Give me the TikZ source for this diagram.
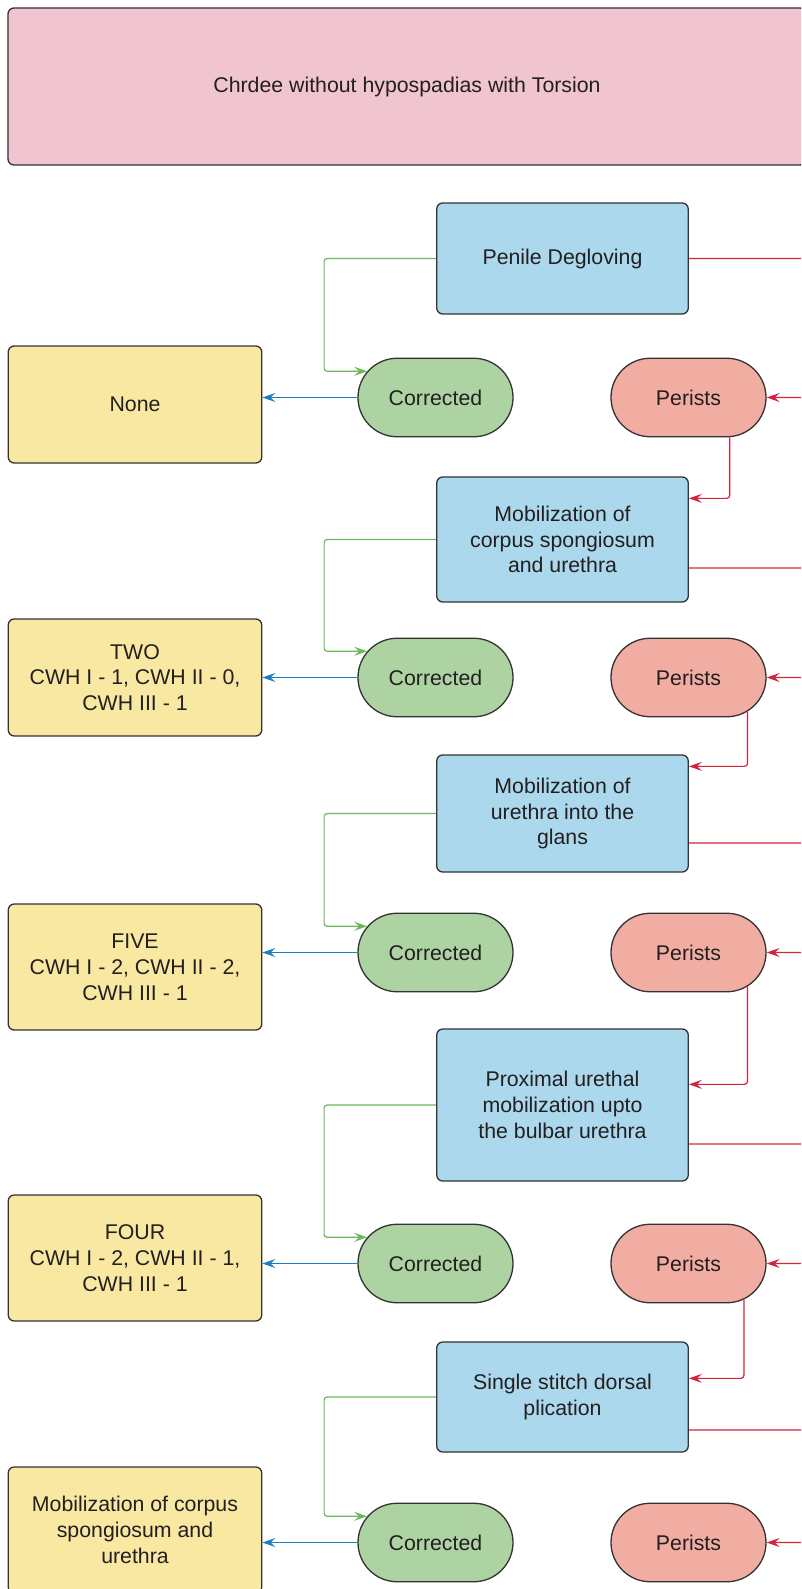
\documentclass[tikz,border=0pt]{standalone}
\usepackage{fontspec}
\setmainfont{Liberation Sans}
\usetikzlibrary{arrows.meta,shapes.misc,calc}

\definecolor{titlepink}{HTML}{F0C5CF}
\definecolor{stepblue}{HTML}{ABD8EC}
\definecolor{okgreen}{HTML}{ADD3A3}
\definecolor{badred}{HTML}{F1ADA2}
\definecolor{resultyellow}{HTML}{F9E8A1}
\definecolor{linegreen}{HTML}{6CB85B}
\definecolor{lineblue}{HTML}{1B7DC1}
\definecolor{linered}{HTML}{D2233F}
\definecolor{edge}{HTML}{333333}
\definecolor{ink}{HTML}{231F20}

\begin{document}
\begin{tikzpicture}[x=1bp, y=-1bp,
every node/.style={font=\fontsize{21.3bp}{25.8bp}\selectfont, text=ink, align=center,
  inner sep=0pt, draw=edge, line width=1.3bp},
titlebox/.style={fill=titlepink, rounded corners=6bp, minimum width=798bp, minimum height=157bp},
stepbox/.style={fill=stepblue, rounded corners=6bp, minimum width=251.5bp},
resultbox/.style={fill=resultyellow, rounded corners=6bp, minimum width=253.5bp},
pill/.style={rounded rectangle, minimum width=155bp, minimum height=78.5bp},
okpill/.style={pill, fill=okgreen},
badpill/.style={pill, fill=badred},
conn/.style={line width=1.2bp, rounded corners=3bp, -{Stealth[length=13bp,width=9bp,inset=5bp]}}]

\def\stepx{562.5}
\def\resx{135}
\def\railx{64}	% how far the red lines run out to the right

\useasboundingbox (0,0) rectangle (801,1589);
\clip (0,0) rectangle (801,1589);

\node[titlebox] (top) at (407,86.5) {Chrdee without hypospadias with Torsion};

% steps
\node[stepbox, minimum height=111bp] (s1) at (\stepx,258.5) {Penile Degloving};
\node[stepbox, minimum height=125bp] (s2) at (\stepx,539.5) {Mobilization of\\corpus spongiosum\\and urethra};
\node[stepbox, minimum height=117bp] (s3) at (\stepx,813.5) {Mobilization of\\urethra into the\\glans};
\node[stepbox, minimum height=152bp] (s4) at (\stepx,1105) {Proximal urethal\\mobilization upto\\the bulbar urethra};
\node[stepbox, minimum height=110bp] (s5) at (\stepx,1397) {Single stitch dorsal\\plication};

% results
\node[resultbox, minimum height=117bp] (r1) at (\resx,404.5) {None};
\node[resultbox, minimum height=117bp] (r2) at (\resx,677.5) {TWO\\CWH I - 1, CWH II - 0,\\CWH III - 1};
\node[resultbox, minimum height=126bp] (r3) at (\resx,967) {FIVE\\CWH I - 2, CWH II - 2,\\CWH III - 1};
\node[resultbox, minimum height=126bp] (r4) at (\resx,1258) {FOUR\\CWH I - 2, CWH II - 1,\\CWH III - 1};
\node[resultbox, minimum height=126bp] (r5) at (\resx,1530) {Mobilization of corpus\\spongiosum and\\urethra};

% outcome of each step
\foreach \i/\y in {1/397.5, 2/677.5, 3/952.5, 4/1263.5, 5/1542.5} {
  \node[okpill] (c\i) at (435.5,\y) {Corrected};
  \node[badpill] (p\i) at (688.5,\y) {Perists};
}

\foreach \i/\dy in {1/0, 2/28.5, 3/29.5, 4/39, 5/33} {
  \draw[conn, linegreen] (s\i.west) -- ++(-112,0) |- (c\i.159);
  \draw[conn, lineblue] (c\i.west) -- (c\i.west -| r\i.east);
  \draw[conn, linered] ($(s\i.east)+(0,\dy)$) -| ($(p\i.east)+(\railx,0)$) -- (p\i.east);
}

% persists -> next step
\foreach \i/\j/\a/\dy in {1/2/-44/22, 2/3/-30/12, 3/4/-30/56, 4/5/-33/37}
  \draw[conn, linered] (p\i.\a) |- ($(s\j.north east)+(0,\dy)$);

\end{tikzpicture}
\end{document}
